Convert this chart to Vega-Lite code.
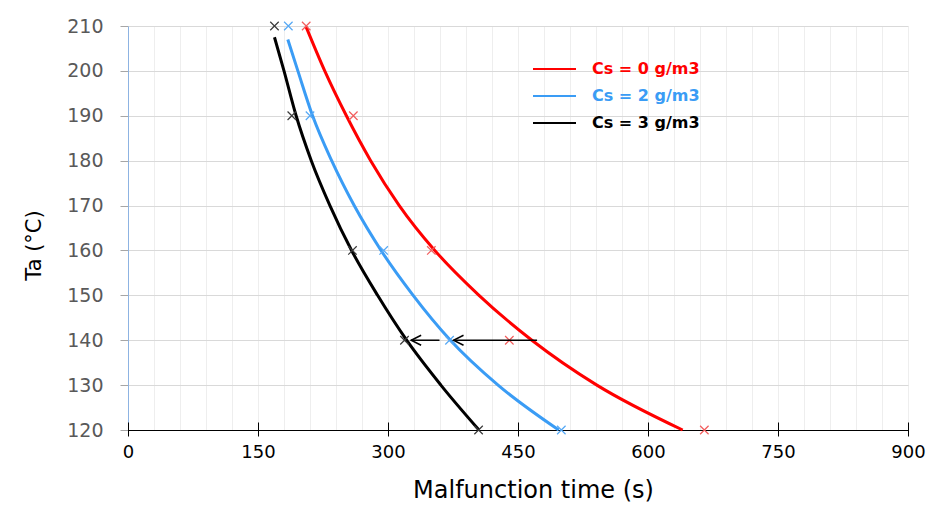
{
  "$schema": "https://vega.github.io/schema/vega-lite/v6.json",
  "width": 780,
  "height": 404,
  "autosize": {"type": "none"},
  "padding": {"left": 128, "top": 26, "right": 23, "bottom": 76},
  "background": "white",
  "config": {"view": {"stroke": null}, "font": "DejaVu Sans"},
  "datasets": {
    "curves": [
      {"series": "Cs = 0 g/m3", "t": 205.5, "T": 209.8},
      {"series": "Cs = 0 g/m3", "t": 227, "T": 200},
      {"series": "Cs = 0 g/m3", "t": 252, "T": 190},
      {"series": "Cs = 0 g/m3", "t": 280, "T": 180},
      {"series": "Cs = 0 g/m3", "t": 313, "T": 170},
      {"series": "Cs = 0 g/m3", "t": 354, "T": 160},
      {"series": "Cs = 0 g/m3", "t": 405, "T": 150},
      {"series": "Cs = 0 g/m3", "t": 466, "T": 140},
      {"series": "Cs = 0 g/m3", "t": 541, "T": 130},
      {"series": "Cs = 0 g/m3", "t": 640, "T": 120},
      {"series": "Cs = 2 g/m3", "t": 184.4, "T": 207},
      {"series": "Cs = 2 g/m3", "t": 196, "T": 200},
      {"series": "Cs = 2 g/m3", "t": 213, "T": 190},
      {"series": "Cs = 2 g/m3", "t": 235, "T": 180},
      {"series": "Cs = 2 g/m3", "t": 261, "T": 170},
      {"series": "Cs = 2 g/m3", "t": 292, "T": 160},
      {"series": "Cs = 2 g/m3", "t": 329, "T": 150},
      {"series": "Cs = 2 g/m3", "t": 372, "T": 140},
      {"series": "Cs = 2 g/m3", "t": 427, "T": 130},
      {"series": "Cs = 2 g/m3", "t": 497, "T": 120},
      {"series": "Cs = 3 g/m3", "t": 169, "T": 207.5},
      {"series": "Cs = 3 g/m3", "t": 180, "T": 200},
      {"series": "Cs = 3 g/m3", "t": 194, "T": 190},
      {"series": "Cs = 3 g/m3", "t": 211.5, "T": 180},
      {"series": "Cs = 3 g/m3", "t": 233, "T": 170},
      {"series": "Cs = 3 g/m3", "t": 258, "T": 160},
      {"series": "Cs = 3 g/m3", "t": 288, "T": 150},
      {"series": "Cs = 3 g/m3", "t": 321.5, "T": 140},
      {"series": "Cs = 3 g/m3", "t": 361, "T": 130},
      {"series": "Cs = 3 g/m3", "t": 405, "T": 120}
    ],
    "points": [
      {"series": "Cs = 0 g/m3", "t": 205.6, "T": 210},
      {"series": "Cs = 0 g/m3", "t": 260, "T": 190},
      {"series": "Cs = 0 g/m3", "t": 350, "T": 160},
      {"series": "Cs = 0 g/m3", "t": 440, "T": 140},
      {"series": "Cs = 0 g/m3", "t": 665, "T": 120},
      {"series": "Cs = 2 g/m3", "t": 185, "T": 210},
      {"series": "Cs = 2 g/m3", "t": 210, "T": 190},
      {"series": "Cs = 2 g/m3", "t": 295, "T": 160},
      {"series": "Cs = 2 g/m3", "t": 371, "T": 140},
      {"series": "Cs = 2 g/m3", "t": 500, "T": 120},
      {"series": "Cs = 3 g/m3", "t": 169, "T": 210},
      {"series": "Cs = 3 g/m3", "t": 189, "T": 190},
      {"series": "Cs = 3 g/m3", "t": 259, "T": 160},
      {"series": "Cs = 3 g/m3", "t": 319, "T": 140},
      {"series": "Cs = 3 g/m3", "t": 404.5, "T": 120}
    ],
    "arrows": [
      {"from": 472, "to": 375.6, "T": 140},
      {"from": 359.4, "to": 326.7, "T": 140}
    ]
  },
  "resolve": {"axis": {"x": "independent"}},
  "layer": [
    {
      "data": {"name": "curves"},
      "mark": {"type": "line", "strokeWidth": 3, "interpolate": "monotone"},
      "encoding": {
        "x": {
          "field": "t", "type": "quantitative",
          "scale": {"domain": [0, 900], "nice": false, "zero": false},
          "axis": {
            "orient": "bottom",
            "values": [0,150,300,450,600,750,900],
            "labelFlush": false,
            "labelOverlap": false,
            "grid": false,
            "domain": false,
            "offset": -8,
            "tickColor": "#000000",
            "tickSize": 14,
            "labelPadding": 7,
            "labelFont": "DejaVu Sans",
            "labelFontSize": 18,
            "labelColor": "#000000",
            "title": "Malfunction time (s)",
            "titleFont": "DejaVu Sans",
            "titleFontSize": 24,
            "titleFontWeight": "normal",
            "titleColor": "#000000",
            "titleX": 405,
            "titleY": 68,
            "titleBaseline": "middle",
            "zindex": 1
          }
        },
        "y": {
          "field": "T", "type": "quantitative",
          "scale": {"domain": [120, 210], "nice": false, "zero": false},
          "axis": {
            "values": [120,130,140,150,160,170,180,190,200,210],
            "grid": true,
            "gridColor": "#d9d9d9",
            "domainColor": "#8db3e2",
            "tickColor": "#a6a6a6",
            "tickSize": 8,
            "labelPadding": 17,
            "labelFont": "DejaVu Sans",
            "labelFontSize": 19,
            "labelColor": "#595959",
            "labelFlush": false,
            "title": "Ta (°C)",
            "titleFont": "DejaVu Sans",
            "titleFontSize": 21,
            "titleFontWeight": "normal",
            "titleColor": "#000000",
            "titleAngle": 270,
            "titleX": -94,
            "titleY": 219,
            "titleBaseline": "middle"
          }
        },
        "color": {
          "field": "series", "type": "nominal",
          "scale": {"domain": ["Cs = 0 g/m3", "Cs = 2 g/m3", "Cs = 3 g/m3"], "range": ["#ff0000", "#3a9cf5", "#000000"]},
          "legend": {
            "orient": "none",
            "legendX": 404,
            "legendY": 33,
            "direction": "vertical",
            "title": null,
            "symbolType": "stroke",
            "symbolSize": 1849,
            "symbolStrokeWidth": 2,
            "clipHeight": 20,
            "rowPadding": 7,
            "labelOffset": 15,
            "labelFont": "DejaVu Sans",
            "labelFontSize": 16,
            "labelFontWeight": "bold",
            "encode": {"labels": {"update": {"fill": {"signal": "scale('color', datum.value)"}}}}
          }
        }
      }
    },
    {
      "data": {"name": "points"},
      "mark": {"type": "point", "shape": "M-1,-1L1,1M-1,1L1,-1", "size": 72, "strokeWidth": 1.2, "filled": false, "opacity": 1},
      "encoding": {
        "x": {
          "field": "t", "type": "quantitative",
          "axis": {
            "orient": "bottom",
            "values": [0,30,60,90,120,150,180,210,240,270,300,330,360,390,420,450,480,510,540,570,600,630,660,690,720,750,780,810,840,870,900],
            "labels": false,
            "ticks": false,
            "grid": true,
            "gridColor": "#eeeeee",
            "gridWidth": 1,
            "domain": true,
            "domainColor": "#000000",
            "domainWidth": 1,
            "title": null,
            "zindex": 0
          }
        },
        "y": {"field": "T", "type": "quantitative"},
        "stroke": {
          "field": "series", "type": "nominal",
          "scale": {"domain": ["Cs = 0 g/m3", "Cs = 2 g/m3", "Cs = 3 g/m3"], "range": ["#f25c5c", "#55a8f5", "#3a3a3a"]},
          "legend": null
        }
      }
    },
    {
      "data": {"name": "arrows"},
      "mark": {"type": "rule", "color": "#000000", "strokeWidth": 1.5},
      "encoding": {
        "x": {"field": "from", "type": "quantitative", "axis": null},
        "x2": {"field": "to"},
        "y": {"field": "T", "type": "quantitative"}
      }
    },
    {
      "data": {"name": "arrows"},
      "mark": {"type": "point", "shape": "M2,-1L0,0L2,1", "size": 100, "filled": false, "stroke": "#000000", "strokeWidth": 1.5, "opacity": 1},
      "encoding": {
        "x": {"field": "to", "type": "quantitative", "axis": null},
        "y": {"field": "T", "type": "quantitative"}
      }
    }
  ]
}
